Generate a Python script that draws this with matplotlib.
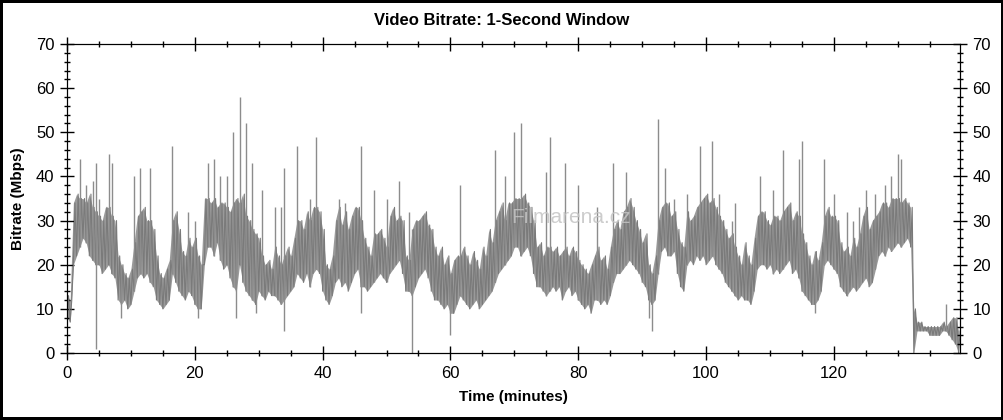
import matplotlib.pyplot as plt
import numpy as np
from matplotlib.ticker import MultipleLocator

plt.rcParams['font.family'] = ['Liberation Sans', 'DejaVu Sans']

# leitura do grafico a cada 0.5 min: topo (hi) e fundo (lo) da faixa densa, em Mbps
passo = 0.5
hi = [13, 12, 34, 36, 35, 35, 34, 36, 33, 32,
      31, 30, 33, 33, 31, 30, 22, 20, 18, 17,
      19, 25, 31, 32, 33, 30, 30, 28, 22, 18,
      17, 19, 21, 30, 32, 28, 23, 22, 26, 24,
      26, 22, 20, 35, 35, 34, 35, 33, 34, 34,
      33, 32, 34, 35, 34, 36, 31, 30, 28, 27,
      26, 22, 20, 21, 19, 24, 22, 20, 22, 24,
      22, 26, 30, 30, 28, 32, 30, 33, 33, 32,
      28, 20, 19, 22, 30, 33, 29, 32, 28, 31,
      33, 33, 30, 26, 24, 22, 27, 27, 28, 26,
      24, 31, 33, 30, 31, 30, 22, 21, 28, 30,
      30, 31, 32, 29, 28, 24, 22, 24, 20, 22,
      18, 21, 22, 22, 24, 22, 20, 23, 21, 19,
      24, 22, 28, 25, 30, 32, 34, 30, 34, 34,
      35, 35, 35, 36, 34, 33, 30, 24, 25, 22,
      24, 24, 23, 24, 22, 23, 24, 22, 24, 23,
      21, 20, 19, 18, 20, 22, 24, 21, 22, 19,
      24, 28, 30, 28, 32, 33, 35, 33, 30, 28,
      25, 27, 20, 18, 22, 30, 33, 34, 34, 31,
      32, 28, 25, 24, 32, 30, 31, 33, 34, 35,
      36, 34, 35, 33, 31, 30, 28, 26, 27, 24,
      22, 20, 25, 22, 20, 26, 31, 32, 32, 30,
      29, 31, 31, 30, 32, 33, 34, 30, 32, 31,
      27, 25, 22, 20, 23, 21, 25, 31, 33, 31,
      31, 30, 25, 23, 24, 22, 26, 24, 27, 31,
      33, 28, 30, 31, 32, 34, 34, 33, 35, 35,
      35, 34, 35, 34, 33, 10, 7, 7, 6, 6,
      6, 6, 6, 6, 7, 6, 7, 8, 8, 5]
lo = [8, 7, 20, 22, 24, 26, 25, 22, 21, 20,
      20, 18, 19, 20, 18, 17, 12, 11, 12, 10,
      11, 14, 17, 18, 17, 18, 16, 15, 12, 11,
      10, 11, 12, 18, 16, 14, 13, 12, 14, 13,
      11, 10, 10, 20, 24, 24, 22, 25, 21, 19,
      20, 17, 15, 14, 20, 16, 14, 13, 12, 11,
      14, 13, 12, 14, 13, 13, 12, 11, 12, 13,
      14, 15, 18, 17, 16, 18, 15, 18, 19, 18,
      14, 12, 11, 13, 16, 17, 15, 16, 14, 16,
      18, 19, 15, 15, 14, 15, 16, 17, 18, 17,
      16, 18, 19, 20, 21, 18, 14, 14, 13, 15,
      17, 18, 19, 17, 14, 12, 12, 11, 10, 11,
      9, 9, 11, 13, 12, 11, 10, 11, 12, 10,
      11, 12, 13, 14, 16, 18, 19, 20, 21, 22,
      24, 24, 22, 23, 24, 22, 18, 15, 15, 14,
      13, 14, 15, 14, 15, 12, 14, 15, 13, 14,
      12, 11, 10, 11, 9, 12, 12, 11, 12, 11,
      13, 16, 18, 18, 19, 20, 21, 20, 19, 18,
      16, 15, 12, 11, 12, 18, 23, 24, 22, 22,
      23, 18, 15, 14, 20, 21, 20, 22, 21, 22,
      20, 21, 22, 20, 19, 18, 16, 15, 14, 13,
      12, 13, 12, 12, 11, 14, 19, 20, 20, 19,
      20, 18, 19, 18, 19, 20, 21, 18, 19, 17,
      14, 13, 12, 11, 11, 12, 14, 20, 21, 20,
      19, 18, 15, 14, 13, 14, 15, 14, 15, 16,
      17, 15, 16, 19, 22, 23, 22, 24, 23, 24,
      25, 24, 25, 26, 24, 0, 5, 5, 5, 5,
      4, 4, 4, 4, 5, 5, 4, 3, 2, 0]

# picos isolados acima da faixa (min, Mbps)
pico_t = [2.0, 3.0, 4.0, 4.5, 5.0, 6.5, 7.0, 10.5, 11.5, 13.0, 16.5, 19.0,
          20.0, 22.0, 23.0, 24.0, 25.0, 26.0, 27.0, 28.0, 29.0, 30.5, 32.5,
          33.5, 34.0, 36.0, 38.0, 39.0, 42.5, 43.5, 46.0, 48.0, 50.0, 52.0,
          53.5, 61.5, 67.0, 68.5, 70.0, 71.0, 75.0, 75.5, 78.0, 80.0, 83.0,
          85.5, 87.5, 92.5, 93.5, 95.0, 97.0, 99.0, 101.0, 102.0, 104.0,
          104.5, 108.5, 110.5, 112.0, 114.5, 115.0, 118.5, 120.0, 122.0,
          123.0, 124.0, 125.0, 126.5, 128.0, 129.0, 130.0, 130.5, 137.5]
pico_v = [44, 38, 39, 43, 35, 45, 43, 40, 42, 42, 47, 32,
          30, 43, 44, 40, 40, 50, 58, 52, 43, 37, 33,
          33, 42, 47, 35, 49, 35, 34, 47, 37, 35, 39,
          32, 38, 46, 40, 50, 52, 41, 49, 43, 38, 33,
          43, 41, 53, 42, 35, 36, 47, 48, 36, 30,
          34, 40, 37, 46, 44, 48, 44, 36, 32,
          30, 33, 37, 36, 38, 40, 45, 44, 11]

# quedas isoladas abaixo da faixa
queda_t = [4.5, 8.5, 20.5, 26.5, 29.5, 34.0, 46.0, 54.0, 60.0, 91.0, 91.5, 117.0]
queda_v = [1, 8, 8, 8, 9, 5, 9, 0, 4, 8, 5, 9]

tempo = np.arange(len(hi)) * passo
hi = np.array(hi)
lo = np.array(lo)
ip = (np.array(pico_t) / passo).astype(int)
iq = (np.array(queda_t) / passo).astype(int)

# tracado em zigue-zague: fundo no inicio do intervalo, topo no meio
zx = np.column_stack([tempo, tempo + passo / 2]).ravel()
zy = np.column_stack([lo, hi]).ravel()

fig = plt.figure(figsize=(10.04, 4.2), dpi=100)
fig.patch.set_edgecolor('black')
fig.patch.set_linewidth(3)

ax = fig.add_axes([0.0667, 0.1595, 0.8893, 0.7357])

ax.fill_between(tempo, lo, hi, color='#9a9a9a', linewidth=0)
ax.plot(zx, zy, color='#7a7a7a', linewidth=0.8)
ax.vlines(pico_t, lo[ip], pico_v, color='#8c8c8c', linewidth=1.0)
ax.vlines(queda_t, queda_v, hi[iq], color='#8c8c8c', linewidth=1.0)

ax.set_xlim(0, 139.7)
ax.set_ylim(0, 70)
ax.xaxis.set_major_locator(MultipleLocator(20))
ax.xaxis.set_minor_locator(MultipleLocator(5))
ax.yaxis.set_major_locator(MultipleLocator(10))
ax.yaxis.set_minor_locator(MultipleLocator(2))
ax.tick_params(which='major', direction='inout', length=10, width=1,
               top=True, right=False, labelsize=12, pad=4)
ax.tick_params(which='minor', direction='inout', length=5, width=1,
               top=True, right=False)

# eixo da direita com os mesmos valores
ax2 = ax.twinx()
ax2.set_ylim(0, 70)
ax2.yaxis.set_major_locator(MultipleLocator(10))
ax2.yaxis.set_minor_locator(MultipleLocator(2))
ax2.tick_params(which='major', direction='inout', length=10, width=1,
                labelsize=12, pad=4)
ax2.tick_params(which='minor', direction='inout', length=5, width=1)

ax.set_xlabel("Time (minutes)", fontsize=11, fontweight='bold', labelpad=7)
ax.set_ylabel("Bitrate (Mbps)", fontsize=11, fontweight='bold', labelpad=8)
fig.text(0.5, 0.952, "Video Bitrate: 1-Second Window", ha='center', va='center',
         fontsize=12, fontweight='bold')

# marca d'agua
ax.text(0.565, 0.44, "Filmarena.cz", transform=ax.transAxes, ha='center',
        va='center', fontsize=15, color='#c4c4c4', alpha=0.85, zorder=5)

fig.savefig("out.png", dpi=100)
